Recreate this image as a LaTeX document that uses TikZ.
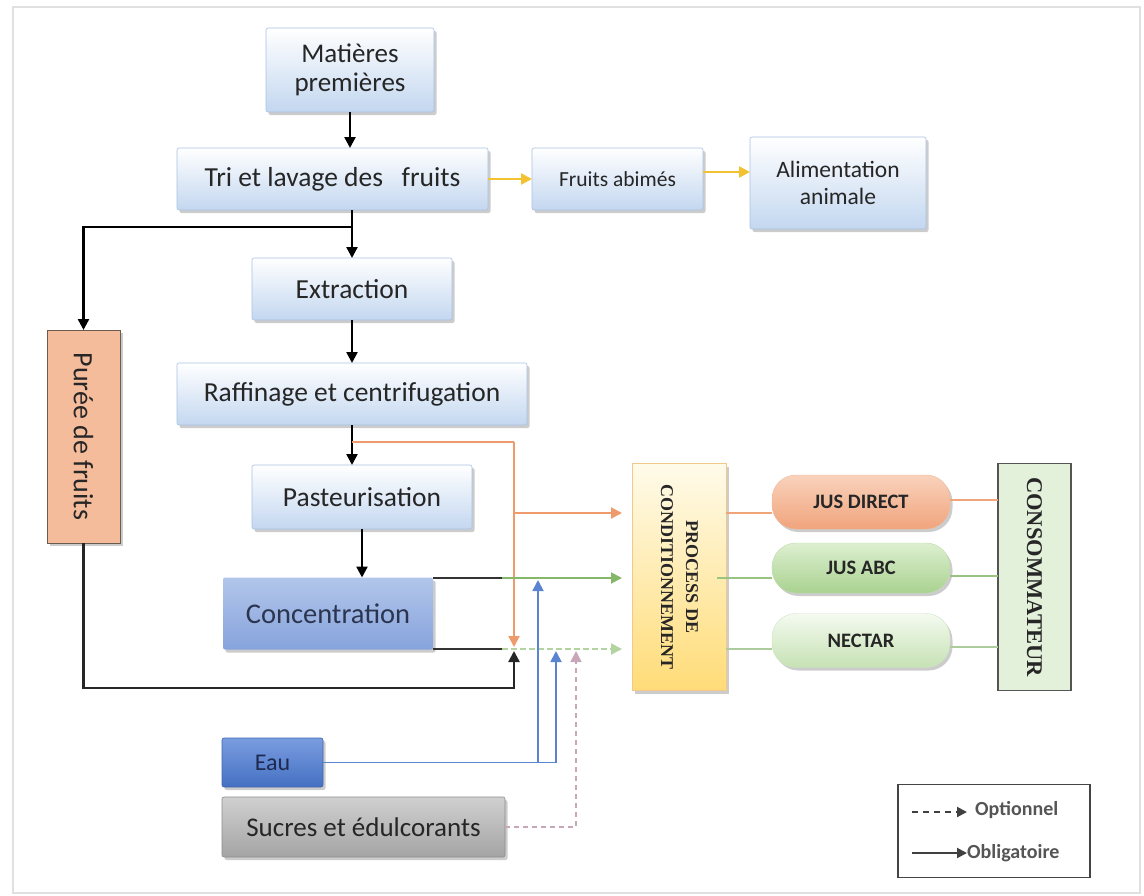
\documentclass[tikz,border=0pt]{standalone}
\usepackage{fontspec}
\setmainfont{Carlito}
\newfontfamily\serifb{Liberation Serif}
\usetikzlibrary{arrows.meta,shadows,calc}
\definecolor{boxblue}{HTML}{C3D7F0}
\definecolor{boxedge}{HTML}{A9C1E0}
\definecolor{txt}{HTML}{262626}
\definecolor{yel}{HTML}{F2C230}
\definecolor{orl}{HTML}{EE9A6A}
\definecolor{grl}{HTML}{86B86A}
\definecolor{grl2}{HTML}{B3D3A0}
\definecolor{bll}{HTML}{5B84D0}
\definecolor{sugl}{HTML}{C8A8B8}
\definecolor{concT}{HTML}{B2C6EA}
\definecolor{concB}{HTML}{86A3DC}
\definecolor{concX}{HTML}{2B3550}
\definecolor{purD}{HTML}{6B5A50}
\definecolor{purF}{HTML}{F5BC9C}
\definecolor{eauD}{HTML}{3F66B0}
\definecolor{eauT}{HTML}{7A9DE0}
\definecolor{eauB}{HTML}{4570C2}
\definecolor{eauX}{HTML}{1E2A50}
\definecolor{sucD}{HTML}{8C8C8C}
\definecolor{sucT}{HTML}{D0D0D0}
\definecolor{sucB}{HTML}{A4A4A4}
\definecolor{procD}{HTML}{F2C98A}
\definecolor{procT}{HTML}{FFFBEA}
\definecolor{procB}{HTML}{FFDC78}
\definecolor{jdD}{HTML}{F0B898}
\definecolor{jdT}{HTML}{F9D2BC}
\definecolor{jdB}{HTML}{F0A47C}
\definecolor{jaD}{HTML}{BFDDAA}
\definecolor{jaT}{HTML}{DDEFD0}
\definecolor{jaB}{HTML}{A9D290}
\definecolor{neD}{HTML}{CFE4C2}
\definecolor{neT}{HTML}{F4FAF0}
\definecolor{neB}{HTML}{C6E2B4}
\definecolor{coD}{HTML}{555555}
\definecolor{coF}{HTML}{E3F0DA}
\definecolor{legD}{HTML}{444444}
\definecolor{legX}{HTML}{555555}
\begin{document}
\begin{tikzpicture}[x=1pt,y=-1pt,
  shadowed/.style={drop shadow={shadow xshift=2.5pt,shadow yshift=-3pt,opacity=0.4}},
  bluebox/.style={shadowed,draw=boxedge,line width=0.6pt,rounded corners=2pt,top color=white,bottom color=boxblue,
    font=\fontsize{27.5}{29}\selectfont,align=center,inner sep=0pt,outer sep=0pt,text=txt},
  pill/.style={shadowed,rounded corners=24pt,inner sep=0pt,outer sep=0pt,minimum width=178pt,
    font=\bfseries\fontsize{20.5}{22}\selectfont,text=txt},
  vbox/.style={inner sep=0pt,outer sep=0pt,minimum width=94pt,minimum height=227pt},
  arr/.style={line width=2.4pt,-{Triangle[length=11pt,width=11pt]}},
  ln/.style={line width=2.4pt}
]
\useasboundingbox (0,0) rectangle (1144,895);
\draw[black!12,line width=2.5pt] (13,7) rectangle (1140,893);

% nodes
\node[bluebox,minimum width=168pt,minimum height=84pt,font=\fontsize{27}{28.5}\selectfont] (mp) at (350,70) {Matières\\premières};
\node[bluebox,minimum width=311pt,minimum height=62pt] (tri) at (332.5,179) {Tri et lavage des\ \ \ fruits};
\node[bluebox,minimum width=171pt,minimum height=62pt,font=\fontsize{21.5}{24}\selectfont] (fa) at (617.5,179) {Fruits abimés};
\node[bluebox,minimum width=176pt,minimum height=92pt,font=\fontsize{23.5}{27}\selectfont] (aa) at (838,183) {Alimentation\\animale};
\node[bluebox,minimum width=200pt,minimum height=62pt] (ext) at (352,289) {Extraction};
\node[bluebox,minimum width=350pt,minimum height=62pt] (raf) at (352,394) {Raffinage et centrifugation};
\node[bluebox,minimum width=220pt,minimum height=64pt] (past) at (362,497) {Pasteurisation};
\node[bluebox,minimum width=210pt,minimum height=72pt,draw=none,top color=concT,bottom color=concB,
  font=\fontsize{28.5}{30}\selectfont,text=concX] (conc) at (328,613.5) {Concentration};
\node[shadowed,draw=purD,line width=1pt,fill=purF,minimum width=73pt,minimum height=213pt,inner sep=0pt,outer sep=0pt,
  font=\fontsize{28}{30}\selectfont,text=txt] (puree) at (83.5,436.5) {\rotatebox{-90}{Purée de fruits}};
\node[bluebox,minimum width=101pt,minimum height=49pt,draw=eauD,top color=eauT,bottom color=eauB,
  font=\fontsize{24}{26}\selectfont,text=eauX] (eau) at (272.5,762.5) {Eau};
\node[bluebox,minimum width=283pt,minimum height=60pt,draw=sucD,top color=sucT,bottom color=sucB,font=\fontsize{27}{29}\selectfont] (suc) at (363.5,827) {Sucres et édulcorants};
\node[vbox,shadowed,draw=procD,line width=0.8pt,top color=procT,bottom color=procB,
  font=\serifb\bfseries\fontsize{18}{27}\selectfont,text=txt] (proc) at (679,577)
  {\rotatebox{-90}{\begin{tabular}{@{}c@{}}PROCESS DE\\[-2pt]CONDITIONNEMENT\end{tabular}}};
\node[pill,minimum height=54pt,draw=jdD,top color=jdT,bottom color=jdB] (jd) at (861,502) {JUS DIRECT};
\node[pill,minimum height=50pt,draw=jaD,top color=jaT,bottom color=jaB] (jabc) at (861,568) {JUS ABC};
\node[pill,minimum height=54pt,draw=neD,top color=neT,bottom color=neB] (nec) at (861,640.5) {NECTAR};
\node[vbox,minimum width=73pt,draw=coD,line width=1.8pt,fill=coF,
  font=\serifb\bfseries\fontsize{22.5}{24}\selectfont,text=txt] (cons) at (1034.5,577) {\rotatebox{-90}{CONSOMMATEUR}};

% legend
\node[draw=legD,line width=1.4pt,minimum width=192pt,minimum height=93pt,inner sep=0pt] (leg) at (994,831) {};
\node[anchor=west,font=\bfseries\fontsize{20}{22}\selectfont,text=legX,inner sep=0pt] (opt) at (975,810) {Optionnel};
\node[anchor=west,font=\bfseries\fontsize{20}{22}\selectfont,text=legX,inner sep=0pt] (obl) at (967,853) {Obligatoire};
\draw[line width=2pt,dash pattern=on 6pt off 5pt,-{Triangle[length=10pt,width=10pt]},black!75] ([xshift=-63pt,yshift=-2pt]opt.west) -- ([xshift=-8pt,yshift=-2pt]opt.west);
\draw[line width=2pt,-{Triangle[length=10pt,width=10pt]},black!75] ([xshift=-55pt]obl.west) -- (obl.west);

% coordinates
\coordinate (br1) at (352,227);
\coordinate (or1) at (352,442);
\coordinate (oc) at (514,442);
\coordinate (ob) at (514,513);
\coordinate (L1) at (0,513);
\coordinate (L2) at (0,578);
\coordinate (L3) at (0,649);
\coordinate (cj) at (502,0);
\coordinate (bot) at (514,688);
\coordinate (bw1) at (538,763);
\coordinate (bw2) at (556,763);
\coordinate (sg) at (576,827);

% black flow
\draw[arr] (mp.south) -- (mp.south |- tri.north);
\draw[arr] (tri.south -| ext.north) -- (ext.north);
\draw[arr] (br1) -| (puree.north);
\draw[arr] (ext.south) -- (raf.north);
\draw[arr] (raf.south) -- (raf.south |- past.north);
\draw[arr] (past.south) -- (past.south |- conc.north);
% yellow
\draw[arr,yel] (tri.east) -- (fa.west);
\draw[arr,yel] ([yshift=7pt]fa.east) -- ([yshift=7pt]fa.east -| aa.west);
% orange
\draw[ln,orl,line width=2pt] (or1) -- (oc);
\draw[arr,orl,line width=2pt] (oc) -- (514,647);
\draw[arr,orl,line width=2pt,shorten >=10pt] (ob) -- (proc.west |- L1);
% concentration outputs
\draw[ln,black!80] (conc.east |- L2) -- (cj |- L2);
\draw[arr,grl,line width=2pt,shorten >=10pt] (cj |- L2) -- (proc.west |- L2);
\draw[ln,black!80] (conc.east |- L3) -- (cj |- L3);
\draw[arr,grl2,line width=2pt,dash pattern=on 6pt off 3pt,shorten >=10pt] (cj |- L3) -- (proc.west |- L3);
% puree to mix
\draw[arr,black!85] (puree.south) |- (bot) -- (514,651);
% water
\draw[arr,bll,line width=1.8pt] (eau.east) -| (556,651);
\draw[arr,bll,line width=1.8pt] (bw1) -- (538,580);
% sugar
\draw[arr,sugl,dash pattern=on 5pt off 4pt,line width=1.6pt] (suc.east) -| (sg) -- (576,651);
% process to products
\draw[ln,orl!90,line width=2pt] (proc.east |- L1) -- (jd.west |- L1);
\draw[ln,grl!85,line width=2pt] ([xshift=-9pt]proc.east |- L2) -- (jabc.west |- L2);
\draw[ln,grl2!90!gray,line width=2pt] (proc.east |- L3) -- (nec.west |- L3);
% products to consumer
\draw[ln,orl!90,line width=2pt] (jd.east |- 0,500) -- (cons.west |- 0,500);
\draw[ln,grl!85,line width=2pt] (jabc.east |- 0,576) -- (cons.west |- 0,576);
\draw[ln,grl2!90!gray,line width=2pt] (nec.east |- 0,647) -- (cons.west |- 0,647);
\end{tikzpicture}
\end{document}
